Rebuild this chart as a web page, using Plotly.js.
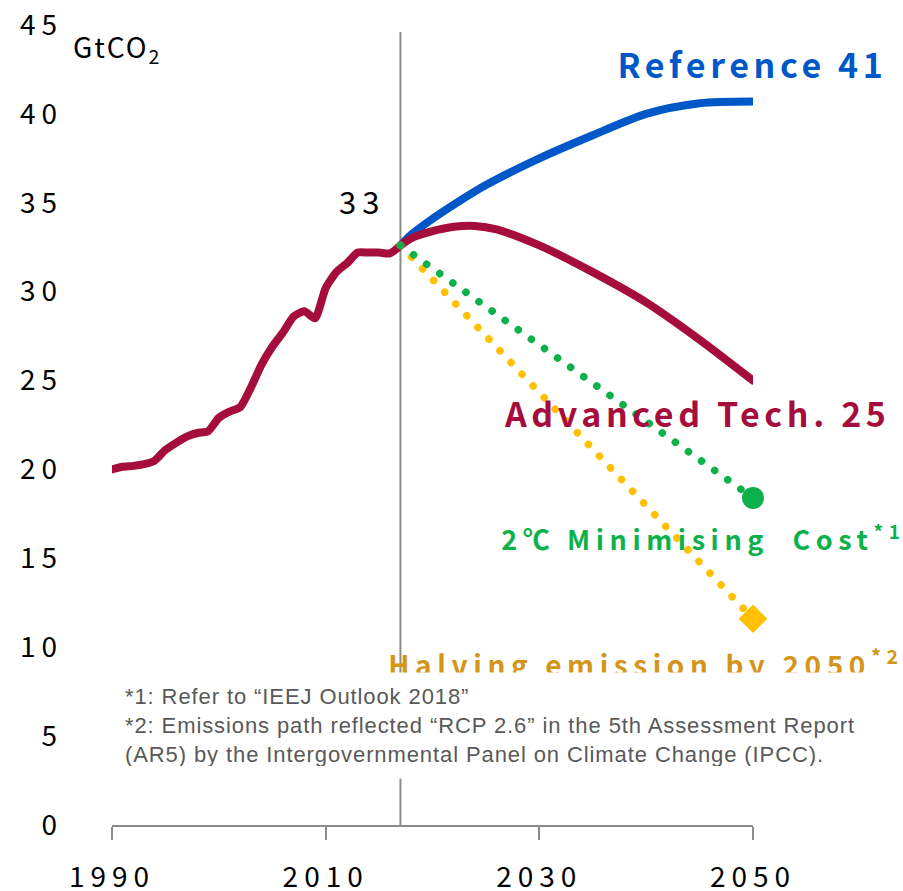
<!DOCTYPE html>
<html>
<head>
<meta charset="utf-8">
<script src="https://cdn.plot.ly/plotly-3.0.1.min.js"></script>
<style>
  html, body { margin: 0; padding: 0; background: #fff; }
  .js-line { stroke-linecap: round; stroke-linejoin: round; }
  .xtick text, .ytick text { letter-spacing: 6px; }
  g.annotation[data-index="0"] text,
  g.annotation[data-index="1"] text { letter-spacing: 4.6px; }
  g.annotation[data-index="2"] text { letter-spacing: 5.6px; }
  g.annotation[data-index="5"] text { letter-spacing: 5.6px; }
  g.annotation[data-index="3"] text { letter-spacing: 6px; }
  g.annotation[data-index="4"] text { letter-spacing: 2px; }
  g.annotation[data-index="6"] text { letter-spacing: 0.9px; }
</style>
</head>
<body>
<div id="chart" style="width:903px;height:891px;"></div>
<script>
// ---- data ----
const histYears = [1990,1991,1992,1993,1994,1995,1996,1997,1998,1999,2000,2001,2002,2003,2004,2005,2006,2007,2008,2009,2010,2011,2012,2013,2014,2015,2016,2017];
const histCO2   = [20.0,20.15,20.2,20.3,20.5,21.1,21.5,21.85,22.05,22.15,22.9,23.25,23.5,24.6,25.9,26.9,27.7,28.6,28.9,28.5,30.2,31.1,31.6,32.2,32.2,32.2,32.15,32.6];

const refYears = [2017,2018,2020,2022,2025,2030,2035,2040,2045,2050];
const refCO2   = [32.6,33.2,34.1,34.9,36.0,37.5,38.8,40.0,40.6,40.7];

const advYears = [2017,2018,2020,2022,2024,2026,2030,2035,2040,2045,2050];
const advCO2   = [32.6,33.0,33.4,33.65,33.7,33.5,32.6,31.1,29.4,27.3,25.0];

const pathYears  = [2017,2050];
const twoDegCO2  = [32.6,18.4];
const halvingCO2 = [32.6,11.6];

const xTickVals = [1990,2010,2030,2050];
const xTickText = ['1990','2010','2030','2050'];
const yTickVals = [0,5,10,15,20,25,30,35,40,45];
const yTickText = ['0','5','10','15','20','25','30','35','40','45'];

const labelRef  = 'Reference 41';
const labelAdv  = 'Advanced Tech. 25';
const label2deg = '2℃ Minimising \u00A0Cost<sup>*1</sup>';
const labelHalf = 'Halving emission by 2050<sup>*2</sup>';
const labelBase = '33';
const unitLabel = 'GtCO<sub>2</sub>';
const footnote  = '*1: Refer to “IEEJ Outlook 2018”<br>*2: Emissions path reflected “RCP 2.6” in the 5th Assessment Report<br>(AR5) by the Intergovernmental Panel on Climate Change (IPCC).';

// ---- styles ----
const RED = '#A50D3C', BLUE = '#0057C8', GREEN = '#0DB14B', GOLD = '#FFC000', GOLDTXT = '#D4951A', GRAY = '#8C8C8C';
const JP = '"Noto Sans CJK JP", "Noto Sans", sans-serif';

const traces = [
  {x: refYears, y: refCO2, mode: 'lines', line: {color: BLUE, width: 8, shape: 'spline', smoothing: 0.8}, cliponaxis: false, hoverinfo: 'skip'},
  {x: histYears, y: histCO2, mode: 'lines', line: {color: RED, width: 8, shape: 'spline', smoothing: 0.6}, cliponaxis: false, hoverinfo: 'skip'},
  {x: advYears, y: advCO2, mode: 'lines', line: {color: RED, width: 8, shape: 'spline', smoothing: 0.8}, cliponaxis: false, hoverinfo: 'skip'},
  {x: pathYears, y: halvingCO2, mode: 'lines+markers', line: {color: GOLD, width: 7.5, dash: '0.1px,16px'},
   marker: {symbol: 'diamond', size: [0, 22], color: GOLD, opacity: 1, line: {width: 0}}, opacity: 1, cliponaxis: false, hoverinfo: 'skip'},
  {x: pathYears, y: twoDegCO2, mode: 'lines+markers', line: {color: GREEN, width: 7.5, dash: '0.1px,16px'},
   marker: {symbol: 'circle', size: [0, 22], color: GREEN, opacity: 1, line: {width: 0}}, opacity: 1, cliponaxis: false, hoverinfo: 'skip'}
];

const layout = {
  width: 903, height: 891,
  margin: {l: 112, r: 150, t: 25, b: 66},
  paper_bgcolor: '#fff', plot_bgcolor: '#fff',
  showlegend: false,
  xaxis: {
    range: [1990, 2050], tickvals: xTickVals, ticktext: xTickText,
    ticks: 'outside', ticklen: 13, tickwidth: 2, tickcolor: GRAY,
    showline: true, linecolor: GRAY, linewidth: 2,
    showgrid: false, zeroline: false, ticklabelstandoff: 13,
    tickfont: {family: JP, size: 28, color: '#000'}
  },
  yaxis: {
    range: [0, 45], tickvals: yTickVals, ticktext: yTickText,
    ticks: '', showline: false, showgrid: false, zeroline: false,
    ticklabelstandoff: 48,
    tickfont: {family: JP, size: 28, color: '#000'}
  },
  shapes: [
    {type: 'line', xref: 'x', yref: 'y', x0: 2017, x1: 2017, y0: 0, y1: 44.6, line: {color: GRAY, width: 2}, layer: 'below'}
  ],
  annotations: [
    {xref: 'x', yref: 'y', x: 2049.95, y: 42.85, xanchor: 'center', yanchor: 'middle', showarrow: false, text: labelRef,
     font: {family: JP, size: 34, color: BLUE, weight: 'bold'}},
    {xref: 'x', yref: 'y', x: 2044.75, y: 23.2, xanchor: 'center', yanchor: 'middle', showarrow: false, text: labelAdv,
     font: {family: JP, size: 34, color: RED, weight: 'bold'}},
    {xref: 'x', yref: 'y', x: 2045.4, y: 16.2, xanchor: 'center', yanchor: 'middle', showarrow: false, text: label2deg,
     font: {family: JP, size: 27, color: GREEN, weight: 'bold'}},
    {xref: 'x', yref: 'y', x: 2013.4, y: 35.15, xanchor: 'center', yanchor: 'middle', showarrow: false, text: labelBase,
     font: {family: JP, size: 31, color: '#000'}},
    {xref: 'paper', yref: 'y', x: -0.056, y: 43.7, xanchor: 'left', yanchor: 'middle', showarrow: false, text: unitLabel,
     font: {family: JP, size: 28, color: '#000'}},
    {xref: 'x', yref: 'y', x: 2040.0, y: 9.15, xanchor: 'center', yanchor: 'middle', showarrow: false, text: labelHalf,
     font: {family: JP, size: 28, color: GOLDTXT, weight: 'bold'}},
    {xref: 'paper', yref: 'y', x: 0, y: 8.605, xanchor: 'left', yanchor: 'top', showarrow: false, text: footnote,
     align: 'left', valign: 'middle', width: 767, height: 81, borderpad: 12, bgcolor: '#fff',
     font: {family: '"Liberation Sans", Arial, sans-serif', size: 22, color: '#595959'}}
  ]
};

Plotly.newPlot('chart', traces, layout, {displayModeBar: false, staticPlot: true});
</script>
</body>
</html>
